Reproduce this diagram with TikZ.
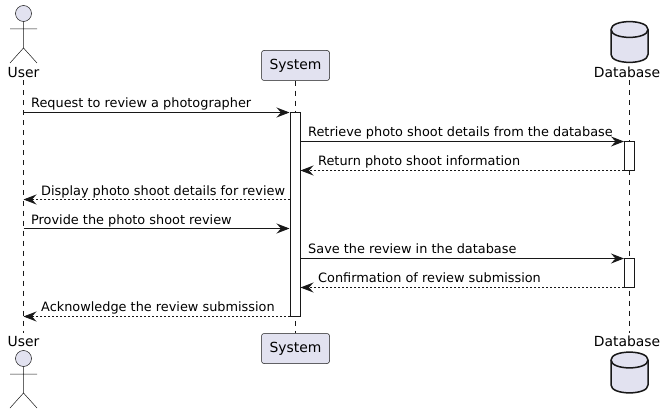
\documentclass[tikz,border=0pt]{standalone}
\usepackage{fontspec}
\setmainfont{DejaVu Sans}
\usetikzlibrary{arrows.meta}
\definecolor{partfill}{HTML}{E2E2F0}
\definecolor{ink}{HTML}{181818}
\tikzset{
  lifeline/.style={draw=ink,line width=0.5pt,dash pattern=on 5pt off 5pt},
  actorline/.style={draw=ink,line width=0.5pt},
  headfill/.style={draw=ink,fill=partfill,line width=0.5pt},
  partbox/.style={draw=ink,fill=partfill,line width=0.5pt,rounded corners=2.5pt,minimum width=68pt,minimum height=30pt,inner sep=0pt,font=\fontsize{13.9}{16}\selectfont},
  partlabel/.style={inner sep=0pt,anchor=base,font=\fontsize{13.9}{16}\selectfont},
  msglabel/.style={inner sep=0pt,anchor=base west,font=\fontsize{12.87}{15}\selectfont},
  activation/.style={draw=ink,fill=white,line width=1pt,minimum width=10pt,inner sep=0pt},
  dbshape/.style={draw=ink,fill=partfill,line width=1.5pt},
  call/.style={draw=ink,line width=1pt,-{Stealth[length=13pt,width=10pt,inset=4.5pt]}},
  reply/.style={draw=ink,line width=1pt,dash pattern=on 2pt off 2pt,-{Stealth[length=13pt,width=10pt,inset=4.5pt]}}
}
\newcommand{\actorfig}[3]{%
  \draw[actorline] (#1,#2+8) -- (#1,#3) (#1-13.5,#2+15.5) -- (#1+13.5,#2+15.5)
    (#1-13.5,#3+15) -- (#1,#3) -- (#1+13.5,#3+15);
  \draw[headfill] (#1,#2) circle (8);
}
\newcommand{\dbfig}[1]{%
  \draw[dbshape] (611,#1+10.5) .. controls (611,#1) and (648,#1) .. (648,#1+10.5)
    -- (648,#1+35.5) .. controls (648,#1+46) and (611,#1+46) .. (611,#1+35.5) -- cycle;
  \draw[dbshape,fill=none] (611,#1+10.5) .. controls (611,#1+21) and (648,#1+21) .. (648,#1+10.5);
}
\begin{document}
\begin{tikzpicture}[x=1pt,y=-1pt]
\useasboundingbox (0,0) rectangle (666,414);
\fill[white] (0,0) rectangle (666,414);
% lifeline ends
\coordinate (utop) at (23.5,80.5);
\coordinate (ubot) at (23.5,333);
\coordinate (dtop) at (629.5,80.5);
\coordinate (dbot) at (629.5,333);
\node[partbox] (systop) at (295.5,65.5) {System};
\node[partbox] (sysbot) at (295.5,348.5) {System};
\draw[lifeline] (utop) -- (ubot);
\draw[lifeline] (systop.south) -- (sysbot.north);
\draw[lifeline] (dtop) -- (dbot);
% activations
\node[activation,minimum height=204pt] (sa) at (295,214.5) {};
\node[activation,minimum height=29pt] (da1) at (629.5,156) {};
\node[activation,minimum height=29pt] (da2) at (629.5,273) {};
% actors and databases
\actorfig{23.5}{13.5}{48}
\actorfig{23.5}{358.5}{393}
\dbfig{19}
\dbfig{349.5}
\node[partlabel] (utxt) at (23.5,77.7) {User};
\node[partlabel] (ubtxt) at (23.5,346) {User};
\node[partlabel] (dtxt) at (627,77.7) {Database};
\node[partlabel] (dbtxt) at (627,346) {Database};
% message end points
\coordinate (u1) at (23.5,112.5);
\coordinate (s1) at (289.5,112.5);
\coordinate (s2) at (300,141.5);
\coordinate (d2) at (624,141.5);
\coordinate (d3) at (624,170.5);
\coordinate (s3) at (300.5,170.5);
\coordinate (s4) at (290,199.5);
\coordinate (u4) at (23.5,199.5);
\coordinate (u5) at (23.5,228.5);
\coordinate (s5) at (289.5,228.5);
\coordinate (s6) at (300,258.5);
\coordinate (d6) at (624,258.5);
\coordinate (d7) at (624,287.5);
\coordinate (s7) at (300.5,287.5);
\coordinate (s8) at (290,316.5);
\coordinate (u8) at (23.5,316.5);
\draw[call] (u1) -- (s1);
\draw[call] (s2) -- (d2);
\draw[reply] (d3) -- (s3);
\draw[reply] (s4) -- (u4);
\draw[call] (u5) -- (s5);
\draw[call] (s6) -- (d6);
\draw[reply] (d7) -- (s7);
\draw[reply] (s8) -- (u8);
% labels
\node[msglabel] (m1) at (31,107.5) {Request to review a photographer};
\node[msglabel] (m2) at (308,136.7) {Retrieve photo shoot details from the database};
\node[msglabel] (m3) at (318,165.7) {Return photo shoot information};
\node[msglabel] (m4) at (41,195.7) {Display photo shoot details for review};
\node[msglabel] (m5) at (31,224.7) {Provide the photo shoot review};
\node[msglabel] (m6) at (308,253.7) {Save the review in the database};
\node[msglabel] (m7) at (318,282.7) {Confirmation of review submission};
\node[msglabel] (m8) at (41,311.7) {Acknowledge the review submission};
\end{tikzpicture}
\end{document}
